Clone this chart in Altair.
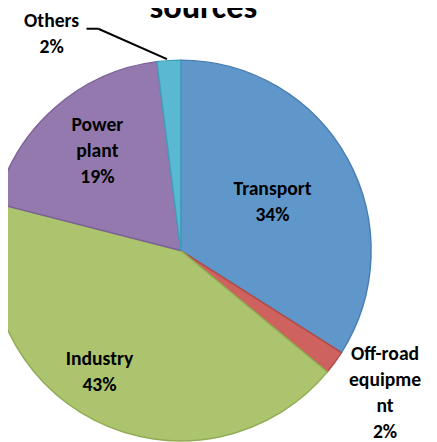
import altair as alt
import pandas as pd

categories = ["Transport", "Off-road equipment", "Industry", "Power plant", "Others"]
values = [34, 2, 43, 19, 2]
label_names = ["Transport", "Off-road\nequipme\nnt", "Industry", "Power\nplant", "Others"]
fills = ["#6097CB", "#CD625E", "#ABC46D", "#9479AE", "#5BB8D3"]
strokes = ["#4A7EB4", "#B24C48", "#92AB55", "#7B6198", "#3FA0BC"]
title_text = "sources"

df = pd.DataFrame({
    "cat": categories,
    "value": values,
    "idx": list(range(len(categories))),
    "txt": [f"{n}\n{v}%" for n, v in zip(label_names, values)],
})

CX, CY, R = 176, 243, 194
FONT = "Carlito, Lato, sans-serif"

base = alt.Chart(df)
theta = alt.Theta("value:Q", stack=True)
order = alt.Order("idx:Q")

pie = base.mark_arc(strokeWidth=1.5).encode(
    theta=theta,
    order=order,
    color=alt.Color("cat:N", scale=alt.Scale(domain=categories, range=fills), legend=None),
    stroke=alt.Stroke("cat:N", scale=alt.Scale(domain=categories, range=strokes), legend=None),
    x=alt.value(CX),
    y=alt.value(CY),
    radius=alt.value(R),
)

# per-label placement: (radius, dx, dy)
placement = {
    "Transport": (101, 5, -14),
    "Off-road equipment": (245, 10, -38),
    "Industry": (147, -16, -20),
    "Power plant": (133, 3, -28),
    "Others": (200, -119, -34.5),
}

label_layers = []
for c in categories:
    r, dx, dy = placement[c]
    lay = base.transform_calculate(
        show=f"datum.cat == '{c}' ? datum.txt : ''"
    ).mark_text(
        radius=r, dx=dx, dy=dy, font=FONT, fontSize=20, fontWeight="bold",
        lineBreak="\n", lineHeight=26.5, align="center", baseline="middle", color="black",
    ).encode(
        theta=theta,
        order=order,
        text="show:N",
        x=alt.value(CX),
        y=alt.value(CY),
    )
    label_layers.append(lay)

title = alt.Chart(pd.DataFrame({"t": [title_text]})).mark_text(
    font=FONT, fontSize=35, fontWeight="bold", align="center", baseline="alphabetic", color="black"
).encode(text="t:N", x=alt.value(199), y=alt.value(6))

one = pd.DataFrame({"a": [0]})
lead1 = alt.Chart(one).mark_rule(color="black", strokeWidth=2).encode(
    x=alt.value(80), x2=alt.value(92), y=alt.value(17), y2=alt.value(17))
lead2 = alt.Chart(one).mark_rule(color="black", strokeWidth=2).encode(
    x=alt.value(92), x2=alt.value(162), y=alt.value(17), y2=alt.value(48))

chart = alt.layer(pie, *label_layers, title, lead1, lead2).properties(
    width=429, height=434, padding=0, autosize=alt.AutoSizeParams(type="none"),
    background="white",
).configure_view(stroke=None)

chart.save("out.html", embed_options={"renderer": "svg", "actions": False})
